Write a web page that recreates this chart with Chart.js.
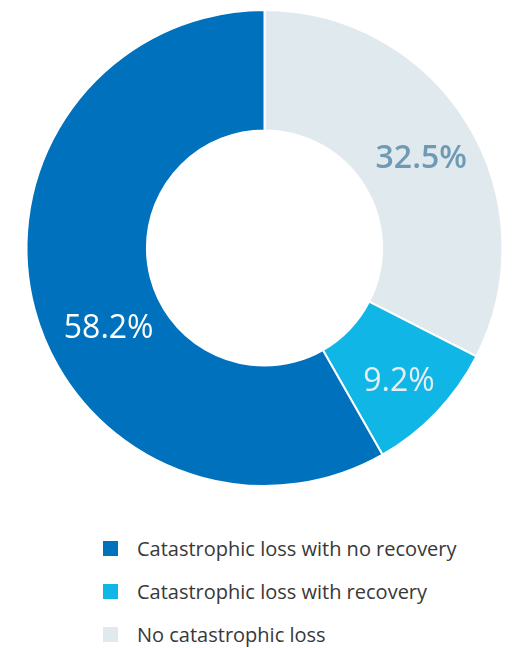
<!DOCTYPE html>
<html lang="en">
<head>
  <meta charset="UTF-8">
  <title>Catastrophic loss doughnut</title>
  <style>
    body {
      margin: 0;
      width: 512px;
      height: 648px;
      background: #ffffff;
      font-family: "Open Sans", Arial, sans-serif;
      overflow: hidden;
      position: relative;
    }

    #chartBox {
      position: absolute;
      left: 0;
      top: 0;
      width: 512px;
      height: 500px;
    }

    #legend {
      position: absolute;
      left: 103px;
      top: 527px;
      list-style: none;
      margin: 0;
      padding: 0;
    }

    #legend li {
      display: flex;
      align-items: center;
      height: 43px;
      font-size: 20px;
      color: #383838;
    }

    #legend span.box {
      width: 15px;
      height: 15px;
      margin-right: 19px;
    }
  </style>
</head>
<body>
  <div id="chartBox"><canvas id="donut"></canvas></div>
  <ul id="legend"></ul>

  <script src="https://cdn.jsdelivr.net/npm/chart.js"></script>
  <script>
    // data, clockwise from 12 o'clock
    const categories = ['No catastrophic loss', 'Catastrophic loss with recovery', 'Catastrophic loss with no recovery'];
    const shares = [32.5, 9.2, 58.2];
    const sliceColors = ['#e0e9ee', '#10b6e6', '#0071bc'];
    const valueLabels = ['32.5%', '9.2%', '58.2%'];

    // label styling / nudges (px) from the ring middle
    const labelColors = ['#6e9bb3', '#e6eef2', '#ffffff'];
    const labelWeights = ['600', '500', '500'];
    const labelNudge = [[5, 4], [6, 11], [16, 35]];

    const sliceLabels = {
      id: 'sliceLabels',
      afterDatasetsDraw(chart) {
        const c = chart.ctx;
        const arcs = chart.getDatasetMeta(0).data;
        c.save();
        c.textAlign = 'center';
        c.textBaseline = 'middle';
        arcs.forEach((arc, i) => {
          const p = arc.tooltipPosition();
          c.font = labelWeights[i] + ' 32px "Open Sans", Arial, sans-serif';
          c.fillStyle = labelColors[i];
          c.fillText(valueLabels[i], p.x + labelNudge[i][0], p.y + labelNudge[i][1]);
        });
        c.restore();
      }
    };

    new Chart(document.getElementById('donut'), {
      type: 'doughnut',
      data: {
        labels: categories,
        datasets: [{
          data: shares,
          backgroundColor: sliceColors,
          borderColor: '#ffffff',
          borderWidth: 2
        }]
      },
      options: {
        responsive: true,
        maintainAspectRatio: false,
        animation: false,
        cutout: '49.4%',
        layout: { padding: { left: 17, right: 0, top: 9, bottom: 13 } },
        plugins: {
          legend: { display: false },
          tooltip: { enabled: false }
        }
      },
      plugins: [sliceLabels]
    });

    // legend, dark first
    const legend = document.getElementById('legend');
    [2, 1, 0].forEach(i => {
      const li = document.createElement('li');
      li.innerHTML = '<span class="box" style="background:' + sliceColors[i] + '"></span>' + categories[i];
      legend.appendChild(li);
    });
  </script>
</body>
</html>
